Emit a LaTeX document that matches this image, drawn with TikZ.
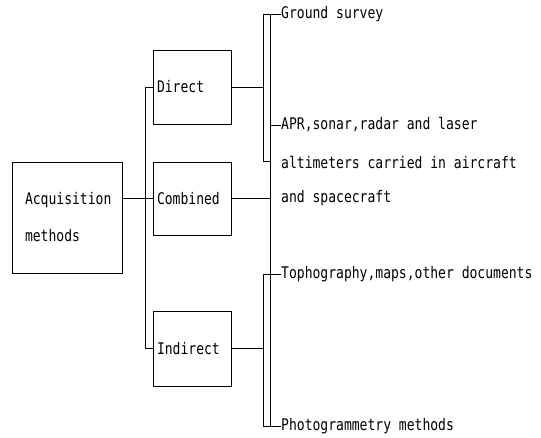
\documentclass[tikz,border=0pt]{standalone}
\usepackage{fontspec}
\newfontfamily\mono[FakeStretch=0.815]{DejaVu Sans Mono}
\begin{document}
\begin{tikzpicture}[x=1pt,y=-1pt,
  box/.style={draw,line width=0.9pt,align=left,inner ysep=0pt,
    font=\mono\fontsize{16}{37}\selectfont},
  smallbox/.style={box,text width=70pt,inner xsep=4pt},
  lbl/.style={anchor=west,inner sep=0pt,font=\mono\fontsize{16}{19}\selectfont},
  conn/.style={line width=0.9pt}]
\useasboundingbox (0,0) rectangle (541,438);
% boxes
\node[box,text width=84pt,inner xsep=13pt,minimum height=111pt] (acq) at (67,217.5) {Acquisition\\methods};
\node[smallbox,minimum height=74pt] (dir) at (192,87) {Direct};
\node[smallbox,minimum height=73pt] (comb) at (192,198.5) {Combined};
\node[smallbox,minimum height=75pt] (ind) at (192,348.5) {Indirect};
% right-hand texts
\node[lbl] (gs) at (281,14) {Ground survey};
\node[lbl] (apr1) at (281,125) {APR,sonar,radar and laser};
\node[lbl] (apr2) at (281,162) {altimeters carried in aircraft};
\node[lbl] (apr3) at (281,198.5) {and spacecraft};
\node[lbl] (top) at (281,274) {Tophography,maps,other documents};
\node[lbl] (ph) at (281,426) {Photogrammetry methods};
% helper coordinates
\coordinate (trunk) at (145,0);
\coordinate (outer) at (263,0);
\coordinate (spine) at (270,0);
\coordinate (dbot) at (263,161);
% connectors
\draw[conn] (comb.west -| acq.east) -- (comb.west);
\draw[conn] (dir.west) -- (dir.west -| trunk) -- (ind.west -| trunk) -- (ind.west);
\draw[conn] (dir.east) -- (dir.east -| outer);
\draw[conn] (gs.west) -- (gs.west -| outer) -- (dbot) -- (dbot -| spine);
\draw[conn] (gs.west -| spine) -- (ph.west -| spine);
\draw[conn] (apr1.west -| spine) -- (apr1.west);
\draw[conn] (comb.east) -- (comb.east -| spine);
\draw[conn] (ind.east) -- (ind.east -| outer);
\draw[conn] (top.west) -- (top.west -| outer) -- (ph.west -| outer) -- (ph.west);
\end{tikzpicture}
\end{document}
